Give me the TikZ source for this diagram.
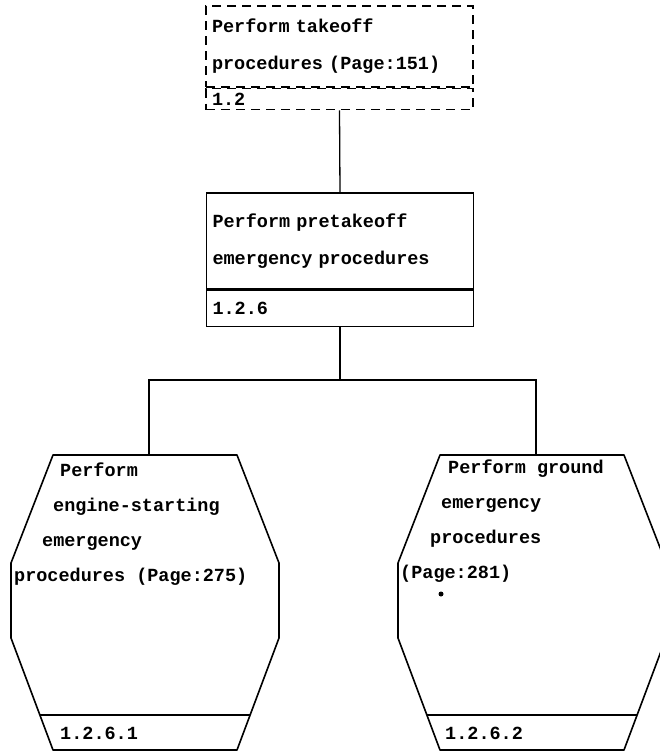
\documentclass[tikz,border=0pt]{standalone}
\usepackage{fontspec}
\setmonofont{Liberation Mono}
\usepackage{tikz}
\usetikzlibrary{positioning,calc}

\begin{document}
\begin{tikzpicture}[
			x=1pt, y=-1pt,
			font=\ttfamily\bfseries\fontsize{18.5}{37}\selectfont,
			taskbox/.style={
				draw,
				line width=1.6pt,
				rectangle,
				inner xsep=6pt,
				text width=255pt,
				align=left
			},
			numbox/.style={
				taskbox,
				minimum height=36pt,
				inner ysep=0pt
			},
			dotted box/.style={
				dash pattern=on 9pt off 6pt
			},
			link/.style={
				line width=1.3pt
			},
			hexline/.style={
				line width=1.6pt,
				line join=round
			}
			]
			
			\useasboundingbox (0,0) rectangle (660,753);
			\clip (0,0) rectangle (660,753);
			
			% Perform takeoff procedures
			\node[
			taskbox,
			dotted box,
			minimum height=81pt
			]
			(takeoff) at (339.5,46.5)
			{Perform takeoff\\
				procedures (Page:151)};
			
			\node[
			numbox,
			dotted box,
			minimum height=21pt,
			below=0pt of takeoff
			]
			(takeoffnum)
			{1.2};
			
			% Perform pretakeoff emergency procedures
			\node[
			taskbox,
			minimum height=96pt
			]
			(pretakeoff) at (340,241)
			{Perform pretakeoff\\
				emergency procedures};
			
			\node[
			numbox,
			below=0pt of pretakeoff
			]
			(pretakeoffnum)
			{1.2.6};
			
			% the two lower tasks
			\foreach \cx/\nm in {145/engine, 532/ground}{
				\draw[hexline]
				(\cx-92,455) -- (\cx+92,455) -- (\cx+134,563) -- (\cx+134,638)
				-- (\cx+92,750) -- (\cx-92,750) -- (\cx-134,638) -- (\cx-134,563) -- cycle;
				\draw[hexline] (\cx-105,715) -- (\cx+105,715);
				\coordinate (\nm) at (\cx+4,455);
			}
			
			\node[
			anchor=north west,
			inner sep=0pt,
			align=left,
			font=\ttfamily\bfseries\fontsize{18.5}{35}\selectfont
			]
			(enginetext) at (14,463)
			{\hspace*{46pt}Perform\\
				\hspace*{39pt}engine-starting\\
				\hspace*{28pt}emergency\\
				procedures (Page:275)};
			
			\node[anchor=west, inner sep=0pt]
			(enginenum) at (60,733)
			{1.2.6.1};
			
			\node[
			anchor=north west,
			inner sep=0pt,
			align=left,
			font=\ttfamily\bfseries\fontsize{18.5}{35}\selectfont
			]
			(groundtext) at (400,460)
			{\hspace*{48pt}Perform ground\\
				\hspace*{41pt}emergency\\
				\hspace*{30pt}procedures\\
				(Page:281)};
			
			\node[anchor=west, inner sep=0pt]
			(groundnum) at (445,733)
			{1.2.6.2};
			
			\fill (441,594) circle (2.5pt);
			
			% connectors
			\coordinate (split) at (pretakeoffnum.south |- 0,380);
			\draw[link] (takeoffnum.south) -- (pretakeoff.north);
			\draw[link] (pretakeoffnum.south) -- (split);
			\draw[link] (engine) |- (split) -| (ground);
			
		\end{tikzpicture}
\end{document}
